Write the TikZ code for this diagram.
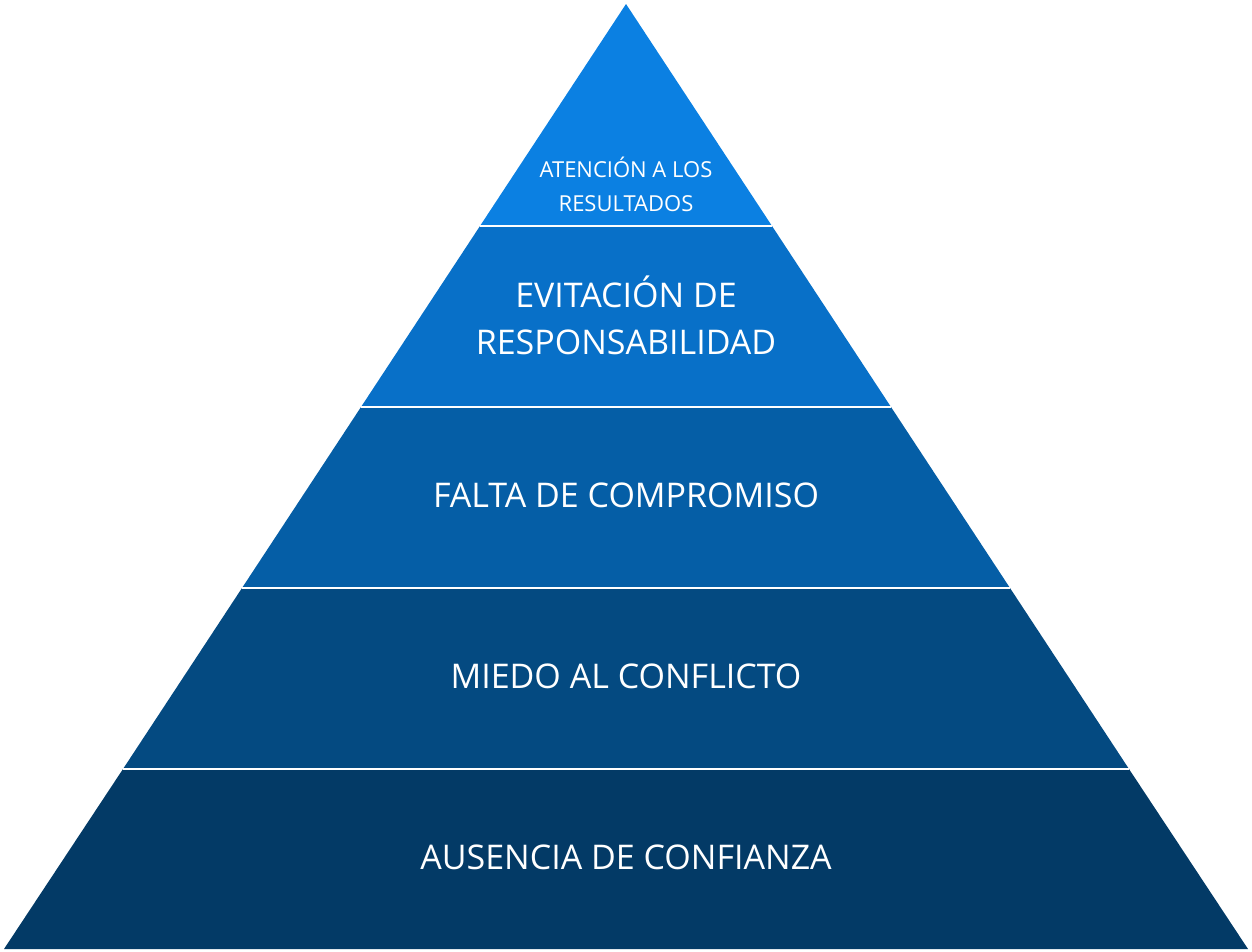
\documentclass[tikz,border=0pt]{standalone}
\usepackage{fontspec}
\setmainfont{Open Sans}
\definecolor{lvlA}{HTML}{0B80E2}
\definecolor{lvlB}{HTML}{0870C8}
\definecolor{lvlC}{HTML}{055EA6}
\definecolor{lvlD}{HTML}{044A81}
\definecolor{lvlE}{HTML}{033A66}
\tikzset{
  layer/.style={draw=white, line width=1.5pt},
  lbl/.style={text=white, align=center, font=\fontsize{34}{47}\selectfont},
  lblsmall/.style={text=white, align=center, font=\fontsize{22}{34}\selectfont}
}
\begin{document}
\begin{tikzpicture}[x=1pt,y=-1pt]
  \useasboundingbox (0,0) rectangle (1252,951);
  % layers, bottom to top
  \fill[lvlE] (4,949) -- (1248,949) -- (1129,769) -- (123,769) -- cycle;
  \fill[lvlD] (123,769) -- (1129,769) -- (1010,588) -- (242,588) -- cycle;
  \fill[lvlC] (242,588) -- (1010,588) -- (891,407) -- (361,407) -- cycle;
  \fill[lvlB] (361,407) -- (891,407) -- (772,226) -- (480,226) -- cycle;
  \fill[lvlA] (480,226) -- (772,226) -- (626,4) -- cycle;
  \foreach \y/\xl/\xr in {769/123/1129, 588/242/1010, 407/361/891, 226/480/772}
    \draw[layer] (\xl,\y) -- (\xr,\y);
  % labels
  \node[lblsmall] (top) at (626,184) {ATENCIÓN A LOS\\RESULTADOS};
  \node[lbl] (resp) at (626,315) {EVITACIÓN DE\\RESPONSABILIDAD};
  \node[lbl] (comp) at (626,495) {FALTA DE COMPROMISO};
  \node[lbl] (conf) at (626,676) {MIEDO AL CONFLICTO};
  \node[lbl] (trust) at (626,857) {AUSENCIA DE CONFIANZA};
\end{tikzpicture}
\end{document}
